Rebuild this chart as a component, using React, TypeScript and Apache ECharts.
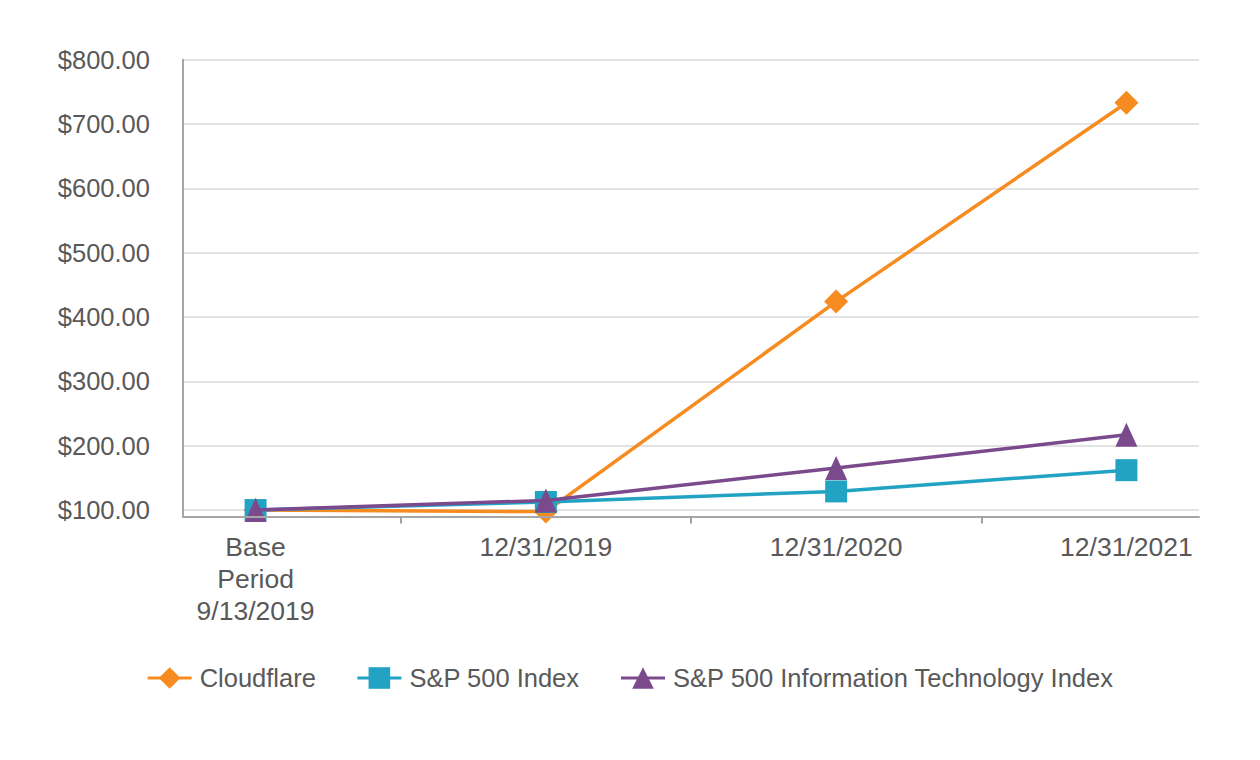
import React, { useEffect, useRef } from "react";
import * as echarts from "echarts";

const categories = ["Base\nPeriod\n9/13/2019", "12/31/2019", "12/31/2020", "12/31/2021"];
const seriesNames = ["Cloudflare", "S&P 500 Index", "S&P 500 Information Technology Index"];
const cloudflare = [100, 97.6, 424, 733];
const sp500 = [100, 112.5, 129, 162];
const spIT = [100, 115, 165.5, 217];
const yTicks = [100, 200, 300, 400, 500, 600, 700, 800];

// the axis is split into fine slots so that labels sit on data and ticks sit between them
const SLOTS = 15;
const dataSlots = [1, 5, 9, 13];
const tickSlots = [3, 7, 11];

const colors = ["#f68b1f", "#22a3c4", "#7b4a8c"];
const symbols = ["diamond", "rect", "triangle"];
const symbolSizes: any[] = [[24, 24], [22, 22], [22, 24]];

function spread(values: number[]) {
  const arr: (number | null)[] = new Array(SLOTS).fill(null);
  dataSlots.forEach((s, i) => (arr[s] = values[i]));
  return arr;
}

export default function App() {
  const ref = useRef<HTMLDivElement>(null);
  useEffect(() => {
    if (!ref.current) return;
    const chart = echarts.init(ref.current, null, { renderer: "svg" });
    const slotLabels: string[] = new Array(SLOTS).fill("");
    dataSlots.forEach((s, i) => (slotLabels[s] = categories[i]));
    const values = [cloudflare, sp500, spIT];
    chart.setOption({
      animation: false,
      backgroundColor: "#ffffff",
      textStyle: { fontFamily: "Liberation Sans, Arial, sans-serif" },
      grid: { left: 183, right: 61, top: 59.7, bottom: 243.5, containLabel: false },
      legend: {
        left: "center",
        top: 660,
        itemWidth: 44,
        itemHeight: 27,
        itemGap: 40,
        data: seriesNames,
        lineStyle: { width: 3 },
        textStyle: { fontSize: 25.5, color: "#595959", fontFamily: "Liberation Sans, Arial, sans-serif", padding: [0, 0, 0, 3] },
      },
      xAxis: {
        type: "category",
        boundaryGap: false,
        data: slotLabels,
        z: 5,
        axisLine: { show: true, lineStyle: { color: "#a6a6a6", width: 2 } },
        axisTick: {
          show: true,
          length: 7,
          interval: (idx: number) => tickSlots.includes(idx),
          lineStyle: { color: "#a0a0a0", width: 2 },
        },
        axisLabel: {
          interval: (idx: number) => dataSlots.includes(idx),
          color: "#595959",
          fontSize: 26.5,
          lineHeight: 32,
          margin: 14,
          verticalAlign: "top",
          fontFamily: "Liberation Sans, Arial, sans-serif",
        },
        splitLine: { show: false },
      },
      yAxis: {
        type: "value",
        min: 90,
        max: yTicks[yTicks.length - 1],
        splitNumber: yTicks.length - 1,
        axisLine: { show: true, lineStyle: { color: "#a6a6a6", width: 2 } },
        axisTick: { show: false },
        splitLine: { show: true, lineStyle: { color: "#e3e3e3", width: 2 } },
        axisLabel: {
          showMinLabel: false,
          color: "#595959",
          fontSize: 25.5,
          margin: 33,
          fontFamily: "Liberation Sans, Arial, sans-serif",
          formatter: (v: number) => (yTicks.includes(v) ? "$" + v.toFixed(2) : ""),
        },
      },
      series: values.map((vals, i) => ({
        name: seriesNames[i],
        type: "line",
        data: spread(vals),
        connectNulls: true,
        symbol: symbols[i],
        symbolSize: symbolSizes[i],
        showAllSymbol: true,
        color: colors[i],
        lineStyle: { color: colors[i], width: 3.5 },
        itemStyle: { color: colors[i] },
        z: 2 + i,
      })),
    });
    return () => chart.dispose();
  }, []);
  return <div ref={ref} style={{ position: "absolute", left: 0, top: 0, width: 1260, height: 760 }} />;
}
